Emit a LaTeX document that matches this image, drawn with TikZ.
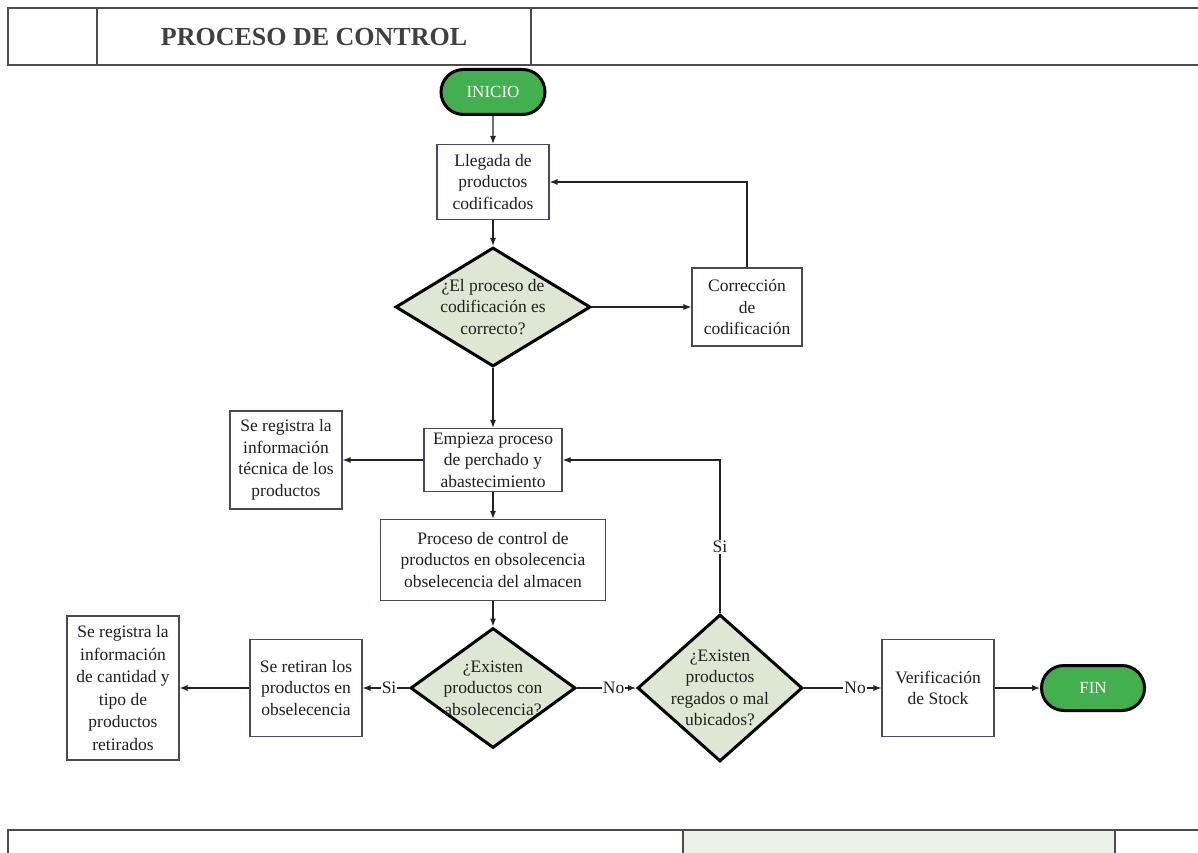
\documentclass[tikz,border=0pt]{standalone}
\usepackage{fontspec}
\setmainfont{Liberation Serif}
\usetikzlibrary{shapes.geometric,shapes.misc,arrows.meta}
\definecolor{boxline}{RGB}{70,72,100}
\definecolor{decfill}{RGB}{221,231,212}
\definecolor{termfill}{RGB}{66,176,78}
\definecolor{titlegray}{RGB}{64,64,64}
\definecolor{footfill}{RGB}{235,241,230}
\definecolor{linkcol}{RGB}{35,35,35}
\tikzset{
  procbox/.style={draw=boxline, line width=1.2pt, fill=white, inner sep=0pt,
    align=center, text=black!88, font=\fontsize{17.5}{21.5}\selectfont},
  decision/.style={diamond, draw=black, line width=3pt, fill=decfill, inner sep=0pt},
  dectext/.style={align=center, text=black!88, font=\fontsize{17.5}{21.5}\selectfont},
  terminal/.style={rounded rectangle, draw=black, line width=3pt, fill=termfill,
    text=white, font=\fontsize{17}{20}\selectfont, inner sep=0pt},
  link/.style={draw=linkcol, line width=1.1pt, -{Latex[length=8pt,width=6pt]}},
  lbl/.style={fill=white, inner sep=1pt, text=black!88, font=\fontsize{17.5}{20}\selectfont},
  frame/.style={draw=black!70, line width=1.2pt}
}
\begin{document}
\begin{tikzpicture}[x=1pt, y=-1pt]
\useasboundingbox (0,0) rectangle (1198,853);

% header
\draw[frame] (1198,8) -- (8,8) -- (8,65) -- (1198,65);
\draw[frame] (97,8) -- (97,65);
\draw[frame] (531,8) -- (531,65);
\node[text=titlegray, font=\fontsize{26}{30}\selectfont\bfseries] (title) at (314,37) {PROCESO DE CONTROL};

% footer
\fill[footfill] (683,830) rectangle (1115,853);
\draw[frame] (8,853) -- (8,830) -- (1198,830);
\draw[frame] (683,830) -- (683,853);
\draw[frame] (1115,830) -- (1115,853);

% terminals
\node[terminal, minimum width=104pt, minimum height=45pt] (inicio) at (493,92) {INICIO};
\node[terminal, minimum width=103pt, minimum height=45pt] (fin) at (1093,688) {FIN};

% process boxes
\node[procbox, minimum width=112pt, minimum height=75pt] (llegada) at (493,182) {Llegada de\\productos\\codificados};
\node[procbox, minimum width=110pt, minimum height=78pt] (corr) at (747,307) {Corrección\\de\\codificación};
\node[procbox, minimum width=138pt, minimum height=63pt] (emp) at (493,460) {Empieza proceso\\de perchado y\\abastecimiento};
\node[procbox, minimum width=112pt, minimum height=98pt] (reg1) at (286,460) {Se registra la\\información\\técnica de los\\productos};
\node[procbox, minimum width=225pt, minimum height=81pt] (proc) at (493,560) {Proceso de control de\\productos en obsolecencia\\obselecencia del almacen};
\node[procbox, minimum width=112pt, minimum height=97pt] (ret) at (306,688) {Se retiran los\\productos en\\obselecencia};
\node[procbox, minimum width=112pt, minimum height=144pt, font=\fontsize{17.5}{22.6}\selectfont] (reg2) at (123,688) {Se registra la\\información\\de cantidad y\\tipo de\\productos\\retirados};
\node[procbox, minimum width=112pt, minimum height=97pt] (ver) at (938,688) {Verificación\\de Stock};

% decisions
\node[decision, minimum width=195pt, minimum height=119pt] (d1) at (493,307) {};
\node[dectext] (d1t) at (493,307) {¿El proceso de\\codificación es\\correcto?};
\node[decision, minimum width=165pt, minimum height=120pt] (d2) at (493,688) {};
\node[dectext] (d2t) at (493,688) {¿Existen\\productos con\\absolecencia?};
\node[decision, minimum width=165pt, minimum height=147pt] (d3) at (720,688) {};
\node[dectext] (d3t) at (720,688) {¿Existen\\productos\\regados o mal\\ubicados?};

% connectors
\draw[link] (inicio) -- (llegada);
\draw[link] (llegada) -- (d1);
\draw[link] (d1.east) -- (corr.west);
\draw[link] (corr.north) |- (llegada.east);
\draw[link] (d1.south) -- (emp.north);
\draw[link] (emp.west) -- (reg1.east);
\draw[link] (emp) -- (proc);
\draw[link] (proc) -- (d2);
\draw[link] (d2.west) -- node[lbl, pos=0.43] (si1) {Si} (ret.east);
\draw[link] (ret.west) -- (reg2.east);
\draw[link] (d2.east) -- node[lbl, pos=0.62] (no1) {No} (d3.west);
\draw[link] (d3.north) |- node[lbl, pos=0.216] (si2) {Si} (emp.east);
\draw[link] (d3.east) -- node[lbl, pos=0.66] (no2) {No} (ver.west);
\draw[link] (ver.east) -- (fin.west);
\end{tikzpicture}
\end{document}
